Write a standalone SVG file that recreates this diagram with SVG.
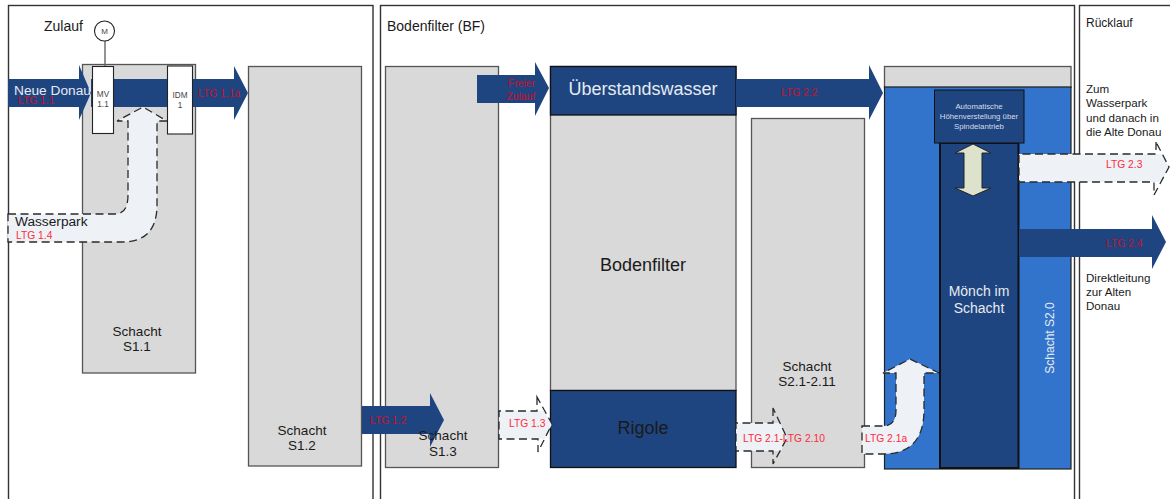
<svg xmlns="http://www.w3.org/2000/svg" width="1170" height="499" viewBox="0 0 1170 499">
<style>
text{font-family:"Liberation Sans",Arial,sans-serif;fill:#1a1a1a}
.m{text-anchor:middle}
.panel{fill:#fff;stroke:#333;stroke-width:1.4}
.gray{fill:#d9d9d9;stroke:#555;stroke-width:1.3}
.navy{fill:#1f4580;stroke:#111;stroke-width:1.3}
.arrow{fill:#1f4580;stroke:none}
.fillp{fill:#eef1f6;stroke:none}
.dash{fill:none;stroke:#2a2a2a;stroke-width:1.3;stroke-dasharray:8 4.500}
.pale{fill:#eef1f6;stroke:#2a2a2a;stroke-width:1.3;stroke-dasharray:8 4.500}
.box{fill:#fff;stroke:#222;stroke-width:1.1}
.r{fill:#c8102e;font-size:10.300px}
.rp{fill:#ff2b3c;font-size:10.300px}
.w{fill:#e6ebf2}
.s{font-size:13.500px}
.b{font-size:18px}
.n{font-size:11.600px}
.h{font-size:14px}
.t{font-size:8.200px;fill:#444}
.a{font-size:7.800px;fill:#d5dde9}
</style>
<g id="panels">
<rect class="panel" x="8.500" y="5.500" width="364.500" height="510"/>
<rect class="panel" x="380.500" y="5.500" width="694" height="510"/>
<rect class="panel" x="1079.500" y="5.500" width="100" height="510"/>
<text class="h" x="44" y="31">Zulauf</text>
<text class="h" x="387" y="31">Bodenfilter (BF)</text>
<text x="1086" y="27" font-size="12">Rücklauf</text>
</g>
<g id="s11"><rect class="gray" x="82.500" y="64.500" width="113" height="308.500"/><text class="m s" x="137" y="336">Schacht</text><text class="m s" x="137" y="351">S1.1</text></g>
<g id="s12"><rect class="gray" x="248.500" y="66.500" width="113" height="399.500"/><text class="m s" x="302" y="435">Schacht</text><text class="m s" x="302" y="450">S1.2</text></g>
<g id="s13"><rect class="gray" x="385.500" y="66.500" width="113" height="401"/></g>
<g id="bodenfilter"><rect class="gray" x="550.500" y="66.500" width="185.500" height="324"/><text class="m b" x="643" y="271">Bodenfilter</text></g>
<g id="ueberstand"><rect class="navy" x="550.500" y="66.500" width="185.500" height="48.500"/><text class="m w b" x="643" y="95">Überstandswasser</text></g>
<g id="rigole"><rect class="navy" x="550.500" y="390.500" width="185.500" height="77"/><text class="m b" x="643" y="434">Rigole</text></g>
<g id="s21"><rect class="gray" x="751.500" y="118.500" width="113" height="349"/><text class="m s" x="807" y="371">Schacht</text><text class="m s" x="807" y="386">S2.1-2.11</text></g>
<g id="s20"><rect class="gray" x="884.500" y="66.500" width="186.500" height="21"/><rect x="884.500" y="87" width="186.500" height="382" fill="#3274cc" stroke="#222" stroke-width="1.200"/><text class="m w" transform="translate(1054 338) rotate(-90)" font-size="12">Schacht S2.0</text></g>
<g id="moench"><rect x="940" y="143" width="78.500" height="325" fill="#1f4580" stroke="#111" stroke-width="2"/><text class="m w h" x="979" y="296">Mönch im</text><text class="m w h" x="979" y="313">Schacht</text></g>
<g id="connectors">
<polygon class="arrow" points="8,79 79,79 79,65 91,93 79,120 79,107 8,107"/>
<polygon class="arrow" points="91,79 234,79 234,66 248,93 234,120 234,107 91,107"/>
<polygon class="arrow" points="477,75 535,75 535,62 549,88 535,116 535,103 477,103"/>
<polygon class="arrow" points="736,79 869,79 869,65 883,93 869,120 869,107 736,107"/>
<polygon class="arrow" points="362,406 430,406 430,393 444,420 430,447 430,434 362,434"/>
<polygon class="arrow" points="1019,229 1152,229 1152,215 1166,242 1152,269 1152,257 1019,257"/>
<path class="pale" d="M8 214H115Q128 214 128 195V121H117L143 107L167 121H157V205Q157 242 122 242H8Z"/>
<polygon class="fillp" points="499,411 544,411 552,424 545,439 499,439"/>
<path class="dash" d="M537 397V411H499V439H538V452L552 424Z"/>
<polygon class="fillp" points="736,423 780,423 787,438 781,451 736,451"/>
<path class="dash" d="M773 408V423H736V451H773V464L787 438Z"/>
<path class="pale" d="M862 426H883Q896 426 896 410V373H883L910 359L939 373H924V410Q924 454 883 454H862Z"/>
<polygon class="fillp" points="1019,154 1162,154 1169,167 1161,182 1019,182"/>
<path class="dash" d="M1156 142V154H1019V182H1154V195L1169 167Z"/>
</g>
<g id="mv11"><line x1="105" y1="41" x2="105" y2="66" stroke="#666" stroke-width="1.400"/><circle cx="104.500" cy="31" r="10" fill="#fff" stroke="#222" stroke-width="1.100"/><text class="m" x="104.500" y="34" font-size="8" style="fill:#444">M</text><rect class="box" x="92.500" y="66.500" width="21" height="67"/><text class="m t" x="103" y="97">MV</text><text class="m t" x="103" y="107">1.1</text></g>
<g id="idm1"><rect class="box" x="167.500" y="66" width="25" height="68"/><text class="m t" x="180" y="98">IDM</text><text class="m t" x="180" y="108">1</text></g>
<g id="auto"><rect x="934.500" y="90" width="89.500" height="53" fill="#1f4580" stroke="#111" stroke-width="1"/><text class="m a" x="979" y="109">Automatische</text><text class="m a" x="979" y="119">Höhenverstellung über</text><text class="m a" x="979" y="128.500">Spindelantrieb</text></g>
<g id="lift"><polygon points="973,144 991,153 982,153 982,188 991,188 973,196 955,188 964,188 964,153 955,153" fill="#dde2cd" stroke="#222" stroke-width="1"/></g>
<g id="labels">
<text class="w" x="14" y="95" font-size="13.700">Neue Donau</text><text class="r" x="18" y="104">LTG 1.1</text>
<text class="r" x="198" y="97">LTG 1.1a</text>
<text x="15" y="226" font-size="13.700">Wasserpark</text><text class="rp" x="16" y="239">LTG 1.4</text>
<text class="r" x="535" y="87" text-anchor="end">Freier</text><text class="r" x="535" y="100" text-anchor="end">Zulauf</text>
<text class="r" x="781" y="96">LTG 2.2</text>
<text class="r" x="370" y="424">LTG 1.2</text>
<text class="m s" x="443" y="440">Schacht</text><text class="m s" x="443" y="456">S1.3</text>
<text class="rp" x="509" y="427">LTG 1.3</text>
<text class="rp" x="743" y="442">LTG 2.1-LTG 2.10</text>
<text class="rp" x="865" y="442">LTG 2.1a</text>
<text class="rp" x="1106" y="168">LTG 2.3</text>
<text class="r" x="1106" y="247">LTG 2.4</text>
<text class="n" x="1086" y="93">Zum</text><text class="n" x="1086" y="107">Wasserpark</text><text class="n" x="1086" y="122">und danach in</text><text class="n" x="1086" y="136">die Alte Donau</text>
<text class="n" x="1086" y="282">Direktleitung</text><text class="n" x="1086" y="296">zur Alten</text><text class="n" x="1086" y="310">Donau</text>
</g>
</svg>
